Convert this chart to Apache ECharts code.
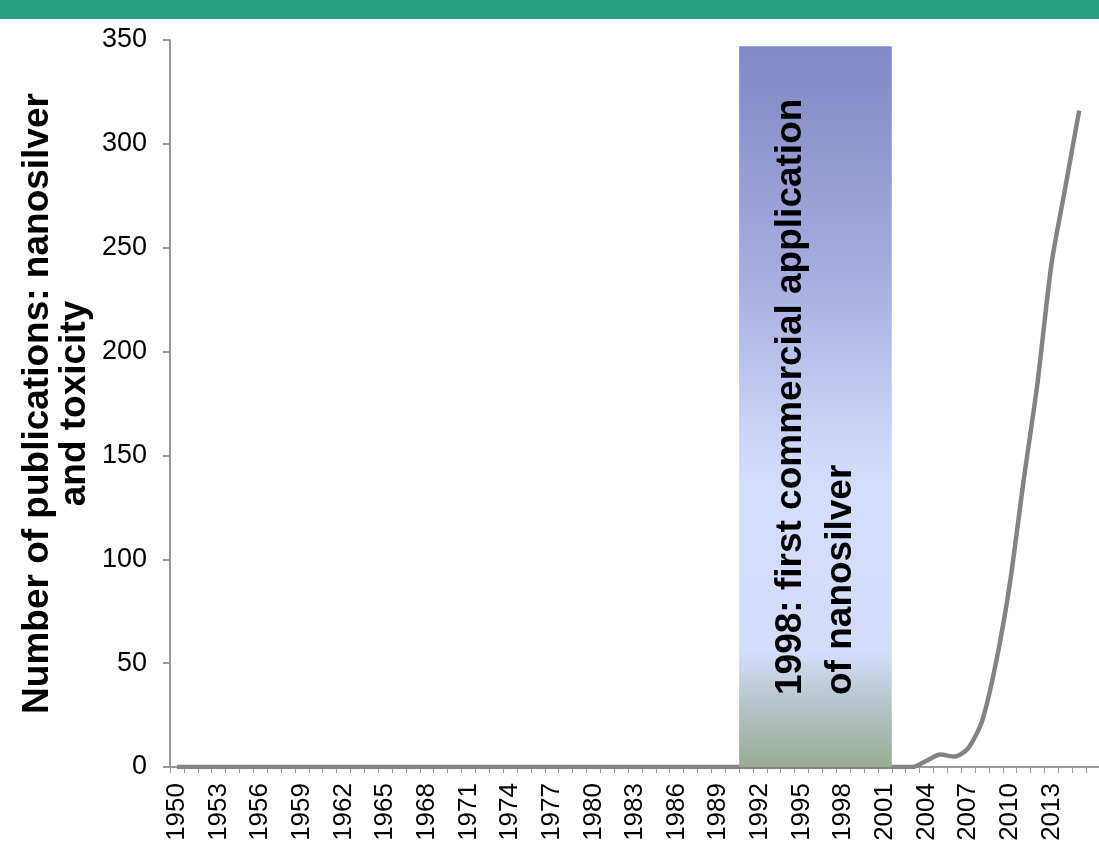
<!DOCTYPE html>
<html>
<head>
<meta charset="utf-8">
<script src="https://cdn.jsdelivr.net/npm/echarts@6/dist/echarts.min.js"></script>
<style>
  html, body { margin: 0; padding: 0; background: #ffffff; }
  #chart { width: 1099px; height: 845px; }
</style>
</head>
<body>
<div id="chart"></div>
<script>
// Publication years shown on the category axis
const years = [
  '1950','1951','1952','1953','1954','1955','1956','1957','1958','1959',
  '1960','1961','1962','1963','1964','1965','1966','1967','1968','1969',
  '1970','1971','1972','1973','1974','1975','1976','1977','1978','1979',
  '1980','1981','1982','1983','1984','1985','1986','1987','1988','1989',
  '1990','1991','1992','1993','1994','1995','1996','1997','1998','1999',
  '2000','2001','2002','2003','2004','2005','2006','2007','2008','2009',
  '2010','2011','2012','2013','2014','2015','2016'
];

// Number of publications on nanosilver and toxicity per year
const publications = [
  0, 0, 0, 0, 0, 0, 0, 0, 0, 0,
  0, 0, 0, 0, 0, 0, 0, 0, 0, 0,
  0, 0, 0, 0, 0, 0, 0, 0, 0, 0,
  0, 0, 0, 0, 0, 0, 0, 0, 0, 0,
  0, 0, 0, 0, 0, 0, 0, 0, 0, 0,
  0, 0, 0, 0, 3, 6, 5, 9, 22, 50,
  88, 138, 185, 242, 279, 316, null
];

// Y axis ticks
const yTicks = [0, 50, 100, 150, 200, 250, 300, 350];

// Every third year is labelled, up to the last labelled year
const labelStep = 3;
const lastLabelYear = '2013';

// Highlighted period around the first commercial use of nanosilver
const bandFirstYear = '1991';
const bandLastYear = '2001';
const bandTopValue = 347;
const bandText = '1998: first commercial application\nof nanosilver';

const yTitle = 'Number of publications: nanosilver\nand toxicity';

const FONT = "'Liberation Sans', Arial, sans-serif";
const AXIS_GREY = '#9a9a9a';

const chart = echarts.init(document.getElementById('chart'), null, { renderer: 'canvas' });

// Band edges expressed on a hidden value axis spanning the same category slots
const bandStart = years.indexOf(bandFirstYear);
const bandEnd = years.indexOf(bandLastYear) + 1;
const lastLabelIndex = years.indexOf(lastLabelYear);

const option = {
  backgroundColor: '#ffffff',
  animation: false,
  graphic: [
    {
      type: 'rect',
      left: 0, top: 0,
      shape: { width: 1099, height: 19 },
      style: { fill: '#27a17d' },
      z: 100
    }
  ],
  grid: {
    left: 170, right: -1, top: 40, bottom: 78,
    containLabel: false,
    outerBoundsMode: 'none'
  },
  xAxis: [
    {
      type: 'category',
      data: years,
      boundaryGap: true,
      axisLine: { show: true, lineStyle: { color: AXIS_GREY, width: 2 } },
      axisTick: { show: true, interval: 0, length: 6, lineStyle: { color: AXIS_GREY, width: 1 } },
      axisLabel: {
        interval: (index) => index % labelStep === 0 && index <= lastLabelIndex,
        hideOverlap: false,
        overflow: 'none',
        rotate: 90,
        margin: 16,
        color: '#000000',
        fontFamily: FONT,
        fontSize: 26
      },
      splitLine: { show: false }
    },
    {
      type: 'value',
      min: 0,
      max: years.length,
      show: false
    }
  ],
  yAxis: {
    type: 'value',
    min: yTicks[0],
    max: yTicks[yTicks.length - 1],
    interval: yTicks[1] - yTicks[0],
    axisLine: { show: true, lineStyle: { color: AXIS_GREY, width: 2 } },
    axisTick: { show: true, length: 7, lineStyle: { color: AXIS_GREY, width: 2 } },
    axisLabel: { margin: 23, color: '#000000', fontFamily: FONT, fontSize: 27 },
    splitLine: { show: false },
    name: yTitle,
    nameLocation: 'middle',
    nameRotate: 90,
    nameGap: 77,
    nameMoveOverlap: false,
    nameTextStyle: {
      color: '#000000',
      fontFamily: FONT,
      fontWeight: 'bold',
      fontSize: 37,
      lineHeight: 37,
      align: 'center'
    }
  },
  series: [
    {
      name: 'publications',
      type: 'line',
      data: publications,
      smooth: 0.25,
      symbol: 'none',
      z: 3,
      lineStyle: { color: '#838383', width: 4.5 }
    },
    {
      name: 'band',
      type: 'line',
      xAxisIndex: 1,
      data: [],
      z: 10,
      markArea: {
        silent: true,
        z: 10,
        itemStyle: {
          color: {
            type: 'linear', x: 0, y: 0, x2: 0, y2: 1,
            colorStops: [
              { offset: 0, color: '#8088c6' },
              { offset: 0.3, color: '#a3abdd' },
              { offset: 0.55, color: '#ccd6f8' },
              { offset: 0.62, color: '#d4defd' },
              { offset: 0.84, color: '#d3ddfa' },
              { offset: 0.92, color: '#b3c2c3' },
              { offset: 1, color: '#96ac94' }
            ]
          }
        },
        label: {
          show: true,
          position: 'insideBottom',
          distance: 62,
          offset: [10, 0],
          rotate: 90,
          align: 'left',
          verticalAlign: 'middle',
          color: '#000000',
          fontFamily: FONT,
          fontWeight: 'bold',
          fontSize: 37,
          lineHeight: 50
        },
        data: [[
          { xAxis: bandStart, yAxis: 0, name: bandText },
          { xAxis: bandEnd, yAxis: bandTopValue }
        ]]
      }
    }
  ]
};

chart.setOption(option);
</script>
</body>
</html>
